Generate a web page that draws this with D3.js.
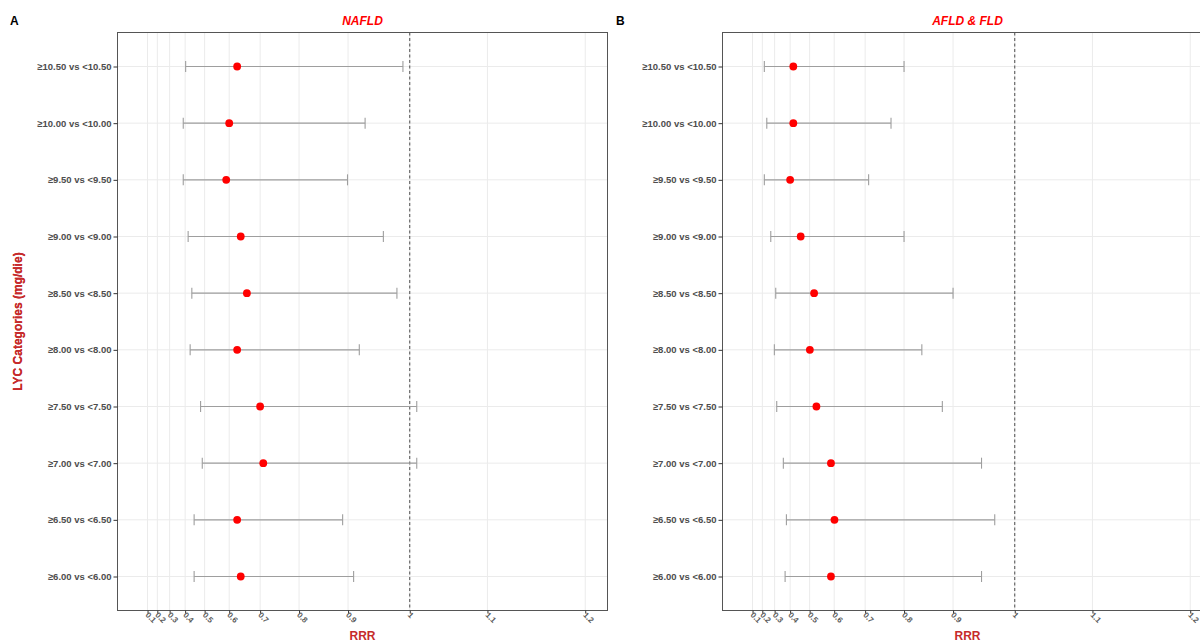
<!DOCTYPE html>
<html>
<head>
<meta charset="utf-8">
<script src="https://cdn.jsdelivr.net/npm/d3@7"></script>
<style>
  body { margin: 0; background: #fff; }
  svg { display: block; font-family: "Liberation Sans", Arial, sans-serif; }
</style>
</head>
<body>
<div id="chart"></div>
<script>
const width = 1200, height = 641;

// categories, top to bottom
const categories = ["≥10.50 vs <10.50", "≥10.00 vs <10.00", "≥9.50 vs <9.50", "≥9.00 vs <9.00",
  "≥8.50 vs <8.50", "≥8.00 vs <8.00", "≥7.50 vs <7.50", "≥7.00 vs <7.00", "≥6.50 vs <6.50", "≥6.00 vs <6.00"];

// NAFLD
const nafldEst = [0.628, 0.600, 0.589, 0.640, 0.660, 0.628, 0.700, 0.709, 0.628, 0.640];
const nafldLow = [0.403, 0.389, 0.389, 0.417, 0.437, 0.428, 0.481, 0.489, 0.449, 0.449];
const nafldUpp = [0.990, 0.930, 0.899, 0.960, 0.981, 0.920, 1.010, 1.010, 0.890, 0.910];

// AFLD & FLD
const afldEst = [0.418, 0.418, 0.400, 0.457, 0.520, 0.501, 0.530, 0.588, 0.601, 0.588];
const afldLow = [0.218, 0.239, 0.218, 0.271, 0.308, 0.298, 0.315, 0.359, 0.378, 0.370];
const afldUpp = [0.800, 0.769, 0.710, 0.800, 0.900, 0.839, 0.880, 0.949, 0.970, 0.949];

const xTicks = [0.1, 0.2, 0.3, 0.4, 0.5, 0.6, 0.7, 0.8, 0.9, 1, 1.1, 1.2];
const xLimits = [0, 1.2];

const panels = [
  { tag: "A", title: "NAFLD", left: 117.5, est: nafldEst, low: nafldLow, upp: nafldUpp },
  { tag: "B", title: "AFLD & FLD", left: 722.5, est: afldEst, low: afldLow, upp: afldUpp }
];

const plotTop = 32.5, pw = 490, ph = 578;
const axisRed = "#c62b2b";

const svg = d3.select("#chart").append("svg")
  .attr("width", width)
  .attr("height", height);

// x is drawn on an exp10 transform
const tr = v => Math.pow(10, v);
const t0 = tr(xLimits[0]), t1 = tr(xLimits[1]);
const pad = (t1 - t0) * 0.05;

panels.forEach(p => {
  const data = categories.map((c, i) => ({ cat: c, est: p.est[i], low: p.low[i], upp: p.upp[i] }));

  const x = d3.scaleLinear().domain([t0 - pad, t1 + pad]).range([0, pw]);
  const y = d3.scalePoint().domain(categories).range([0, ph]).padding(0.6);

  const g = svg.append("g").attr("transform", `translate(${p.left},${plotTop})`);

  // grid
  g.append("g").selectAll("line").data(xTicks).join("line")
    .attr("x1", d => x(tr(d))).attr("x2", d => x(tr(d)))
    .attr("y1", 0).attr("y2", ph)
    .attr("stroke", "#ebebeb").attr("stroke-width", 1);
  g.append("g").selectAll("line").data(categories).join("line")
    .attr("x1", 0).attr("x2", pw)
    .attr("y1", d => y(d)).attr("y2", d => y(d))
    .attr("stroke", "#ebebeb").attr("stroke-width", 1);

  // reference line at 1
  g.append("line")
    .attr("x1", x(tr(1))).attr("x2", x(tr(1)))
    .attr("y1", 0).attr("y2", ph)
    .attr("stroke", "#222").attr("stroke-width", 0.8)
    .attr("stroke-dasharray", "3,2.5");

  // error bars
  const eb = g.append("g").attr("stroke", "#9e9e9e").attr("stroke-width", 1.1).attr("fill", "none");
  eb.selectAll(".bar").data(data).join("line").attr("class", "bar")
    .attr("x1", d => x(tr(d.low))).attr("x2", d => x(tr(d.upp)))
    .attr("y1", d => y(d.cat)).attr("y2", d => y(d.cat));
  eb.selectAll(".capl").data(data).join("line").attr("class", "capl")
    .attr("x1", d => x(tr(d.low))).attr("x2", d => x(tr(d.low)))
    .attr("y1", d => y(d.cat) - 5.5).attr("y2", d => y(d.cat) + 5.5);
  eb.selectAll(".capu").data(data).join("line").attr("class", "capu")
    .attr("x1", d => x(tr(d.upp))).attr("x2", d => x(tr(d.upp)))
    .attr("y1", d => y(d.cat) - 5.5).attr("y2", d => y(d.cat) + 5.5);

  // points
  g.append("g").selectAll("circle").data(data).join("circle")
    .attr("cx", d => x(tr(d.est)))
    .attr("cy", d => y(d.cat))
    .attr("r", 3.9)
    .attr("fill", "#ff0000");

  // border
  g.append("rect")
    .attr("width", pw).attr("height", ph)
    .attr("fill", "none").attr("stroke", "#555").attr("stroke-width", 1);

  // y axis
  const yAxis = g.append("g")
    .call(d3.axisLeft(y).tickSize(4).tickPadding(2));
  yAxis.select(".domain").remove();
  yAxis.selectAll("line").attr("stroke", "#333");
  yAxis.selectAll("text")
    .attr("font-size", 9.5).attr("font-weight", "bold").attr("fill", "#4d4d4d")
    .attr("font-family", "Liberation Sans, Arial, sans-serif");

  // x axis
  const xAxis = g.append("g")
    .attr("transform", `translate(0,${ph})`)
    .call(d3.axisBottom(x).tickValues(xTicks.map(tr)).tickFormat((d, i) => xTicks[i]).tickSize(3));
  xAxis.select(".domain").remove();
  xAxis.selectAll("line").attr("stroke", "#333");
  xAxis.selectAll("text")
    .attr("font-size", 8).attr("font-weight", "bold").attr("fill", "#5a5a5a")
    .attr("font-family", "Liberation Sans, Arial, sans-serif")
    .attr("text-anchor", "start")
    .attr("dy", null)
    .attr("y", 0)
    .attr("transform", "translate(-3,5) rotate(45)");

  // titles
  g.append("text")
    .attr("x", pw / 2).attr("y", -8)
    .attr("text-anchor", "middle")
    .attr("font-size", 12).attr("font-weight", "bold").attr("font-style", "italic")
    .attr("fill", "#ff0000")
    .text(p.title);

  g.append("text")
    .attr("x", pw / 2).attr("y", ph + 29)
    .attr("text-anchor", "middle")
    .attr("font-size", 12).attr("font-weight", "bold")
    .attr("fill", axisRed)
    .text("RRR");

  g.append("text")
    .attr("transform", `translate(${-p.left + 22},${ph / 2}) rotate(-90)`)
    .attr("text-anchor", "middle")
    .attr("font-size", 12).attr("font-weight", "bold")
    .attr("fill", axisRed)
    .text("LYC Categories (mg/die)");

  svg.append("text")
    .attr("x", p.tag === "A" ? 10 : 616)
    .attr("y", 25)
    .attr("font-size", 12).attr("font-weight", "bold")
    .attr("fill", "#000")
    .text(p.tag);
});
</script>
</body>
</html>
